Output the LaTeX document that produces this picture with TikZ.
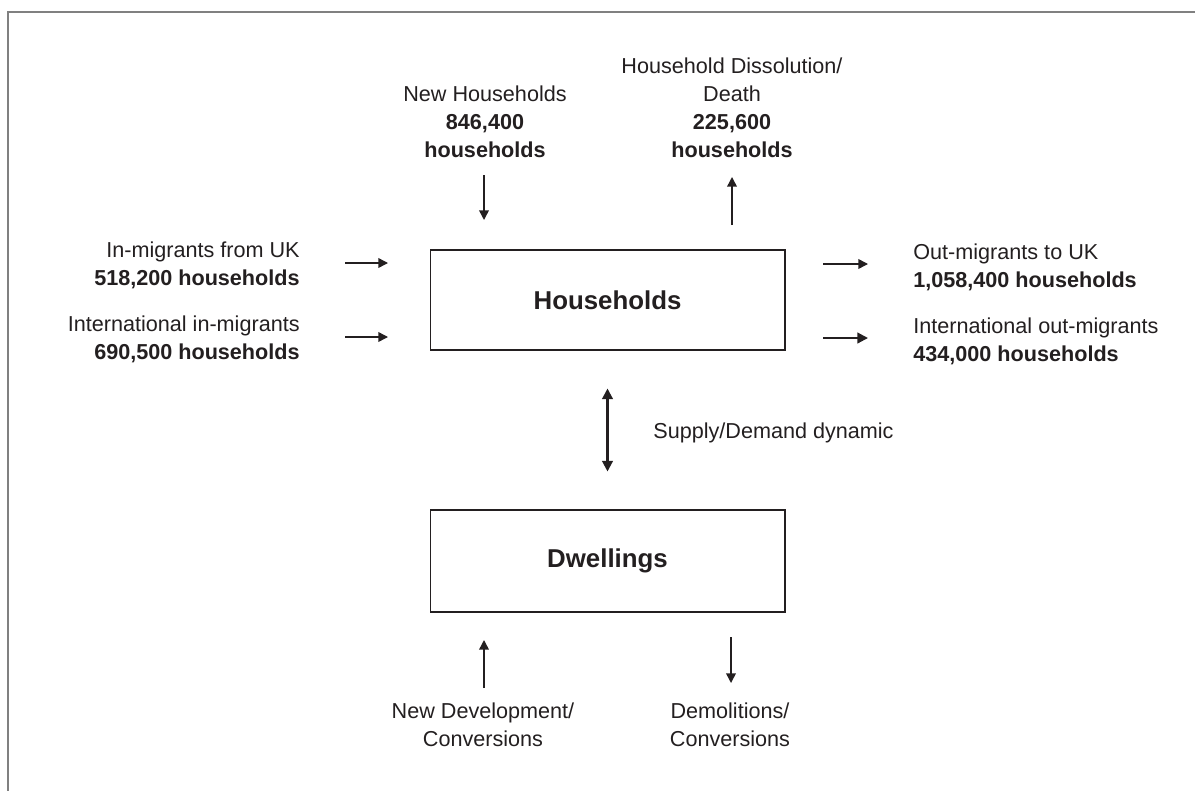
\documentclass[tikz,border=0pt]{standalone}
\usepackage{fontspec}
\setmainfont{Liberation Sans}
\usetikzlibrary{arrows.meta,positioning}
\definecolor{ink}{HTML}{231F20}

\begin{document}
\begin{tikzpicture}[x=0.02cm, y=-0.02cm,
  lbl/.style = {text=ink, font=\fontsize{12.3}{15.8}\selectfont, inner sep=0pt},
  box/.style = {draw=ink, line width=0.6pt, text=ink, minimum width=7.1cm,
    minimum height=2cm, font=\fontsize{14.7}{17}\selectfont\bfseries},
  flow/.style = {draw=ink, line width=0.85pt, -{Triangle[length=5.5pt,width=5.5pt]}},
  bigflow/.style = {flow, line width=1.2pt, -{Triangle[length=6pt,width=6pt]}}]
  \useasboundingbox (0,0) rectangle (1195,791);
  \draw[gray, line width=1.2pt] (1195,12) -- (8,12) -- (8,791);
  % the two stocks
  \node[box] (hh) at (607.5,300) {Households};
  \node[box, minimum height=2.04cm] (dw) at (607.5,561) {Dwellings};
  % flows in and out (anchored on the last line)
  \node[lbl, anchor=base east, align=right] (inuk) at (300,285)
    {In-migrants from UK\\\textbf{518,200 households}};
  \node[lbl, anchor=base east, align=right] (inint) at (300,359)
    {International in-migrants\\\textbf{690,500 households}};
  \node[lbl, anchor=base west, align=left] (outuk) at (913,287)
    {Out-migrants to UK\\\textbf{1,058,400 households}};
  \node[lbl, anchor=base west, align=left] (outint) at (913,361)
    {International out-migrants\\\textbf{434,000 households}};
  \node[lbl, anchor=base, align=center] (newhh) at (485,157)
    {New Households\\\textbf{846,400}\\\textbf{households}};
  \node[lbl, anchor=base, align=center] (death) at (732,157)
    {Household Dissolution/\\Death\\\textbf{225,600}\\\textbf{households}};
  \node[lbl, anchor=base, align=center] (newdev) at (483,746)
    {New Development/\\Conversions};
  \node[lbl, anchor=base, align=center] (demol) at (730,746)
    {Demolitions/\\Conversions};
  \node[lbl, anchor=base west] (supdem) at (653,438) {Supply/Demand dynamic};
  % arrow ends
  \coordinate (inuk0) at (345,263);   \coordinate (inuk1) at (388,263);
  \coordinate (inint0) at (345,337);  \coordinate (inint1) at (388,337);
  \coordinate (outuk0) at (823,264);  \coordinate (outuk1) at (868,264);
  \coordinate (outint0) at (823,338); \coordinate (outint1) at (868,338);
  \coordinate (newhh0) at (484,175);  \coordinate (newhh1) at (484,220);
  \coordinate (death0) at (732,225);  \coordinate (death1) at (732,177);
  \coordinate (newdev0) at (484,688); \coordinate (newdev1) at (484,640);
  \coordinate (demol0) at (731,637);  \coordinate (demol1) at (731,683);
  \foreach \f in {inuk,inint,outuk,newhh,death,newdev,demol}
  \draw[flow] (\f0) -- (\f1);
  \draw[bigflow] (outint0) -- (outint1);
  \draw[bigflow, {Triangle[length=6pt,width=6pt]}-{Triangle[length=6pt,width=6pt]},
    shorten <=0.76cm, shorten >=0.76cm] (hh) -- (dw);
\end{tikzpicture}
\end{document}
